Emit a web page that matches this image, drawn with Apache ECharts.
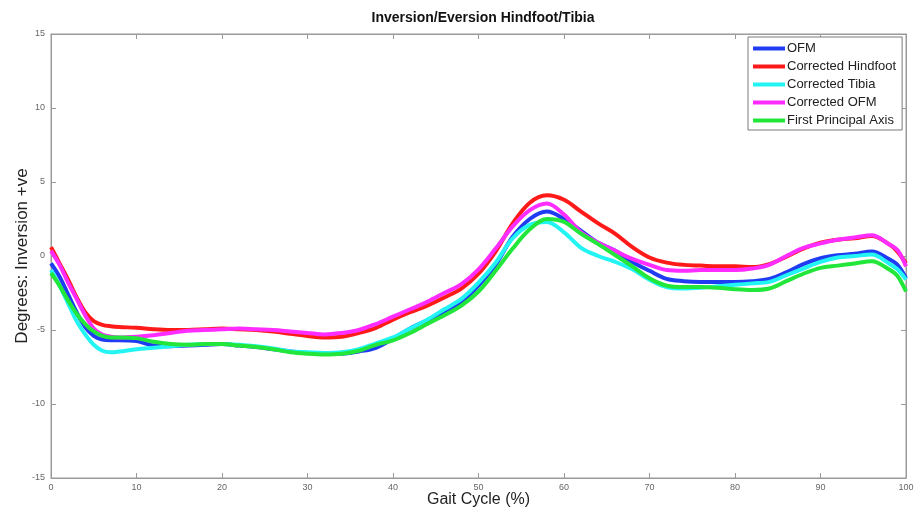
<!DOCTYPE html>
<html>
<head>
<meta charset="utf-8">
<title>Inversion/Eversion Hindfoot/Tibia</title>
<script src="https://cdn.jsdelivr.net/npm/echarts@6/dist/echarts.min.js"></script>
<style>
  html, body { margin: 0; padding: 0; background: #ffffff; }
  #chart { width: 916px; height: 515px; }
</style>
</head>
<body>
<div id="chart"></div>
<script>
// Gait cycle sample positions (%)
const gaitCycle = [0,1,2,3,4,5,6,7,8,10,12,14,16,18,20,22,24,26,28,30,32,34,36,38,40,42,44,46,48,50,52,54,56,58,60,62,64,66,68,70,72,74,76,78,80,82,84,86,88,90,92,94,96,98,99,100];

// Inversion/eversion angle (degrees, inversion positive) for each model
const ofm = [-0.5,-1.4,-2.6,-3.8,-4.8,-5.4,-5.65,-5.7,-5.7,-5.75,-6.05,-6.1,-6.05,-6.0,-5.95,-6.05,-6.15,-6.3,-6.45,-6.55,-6.6,-6.6,-6.45,-6.2,-5.6,-4.9,-4.35,-3.8,-3.1,-2.0,-0.6,1.3,2.5,3.0,2.5,1.7,0.9,0.35,-0.4,-1.0,-1.55,-1.7,-1.75,-1.75,-1.75,-1.7,-1.55,-1.1,-0.55,-0.15,0.05,0.15,0.3,-0.2,-0.6,-1.5];
const correctedHindfoot = [0.6,-0.5,-1.6,-2.8,-3.8,-4.4,-4.65,-4.75,-4.8,-4.85,-4.95,-5.0,-5.0,-4.95,-4.9,-4.95,-5.0,-5.1,-5.25,-5.4,-5.5,-5.45,-5.2,-4.85,-4.3,-3.8,-3.35,-2.8,-2.2,-1.2,0.3,2.2,3.6,4.1,3.8,3.0,2.2,1.5,0.6,-0.1,-0.45,-0.6,-0.65,-0.7,-0.7,-0.75,-0.55,-0.05,0.5,0.9,1.1,1.2,1.35,0.8,0.3,-0.5];
const correctedTibia = [-0.95,-2.0,-3.2,-4.4,-5.3,-6.0,-6.4,-6.5,-6.45,-6.3,-6.2,-6.1,-6.0,-5.95,-5.95,-6.0,-6.1,-6.25,-6.45,-6.5,-6.55,-6.5,-6.3,-5.9,-5.5,-4.9,-4.3,-3.6,-2.9,-1.8,-0.45,1.2,2.1,2.3,1.6,0.55,0.0,-0.4,-0.9,-1.6,-2.1,-2.2,-2.15,-2.05,-1.95,-1.85,-1.75,-1.3,-0.85,-0.4,-0.1,0.0,0.1,-0.5,-0.9,-1.6];
const correctedOfm = [0.35,-0.6,-1.8,-2.9,-4.0,-4.9,-5.3,-5.45,-5.5,-5.45,-5.35,-5.2,-5.05,-5.0,-4.95,-4.9,-4.95,-5.0,-5.1,-5.2,-5.3,-5.2,-5.0,-4.6,-4.1,-3.6,-3.1,-2.5,-1.9,-0.9,0.5,2.0,3.1,3.55,2.8,1.6,0.9,0.35,-0.2,-0.6,-0.95,-1.0,-0.95,-0.95,-0.95,-0.85,-0.6,0.0,0.55,0.85,1.1,1.25,1.4,0.8,0.4,-0.7];
const firstPrincipalAxis = [-1.15,-2.0,-3.0,-3.9,-4.6,-5.1,-5.4,-5.5,-5.5,-5.55,-5.8,-5.95,-6.0,-5.95,-5.95,-6.05,-6.15,-6.3,-6.5,-6.6,-6.65,-6.6,-6.4,-6.0,-5.7,-5.2,-4.6,-4.0,-3.35,-2.4,-1.0,0.5,1.8,2.5,2.3,1.5,0.8,0.05,-0.7,-1.5,-2.0,-2.1,-2.1,-2.15,-2.25,-2.3,-2.2,-1.7,-1.2,-0.8,-0.65,-0.5,-0.35,-0.9,-1.35,-2.4];

const seriesNames = ['OFM', 'Corrected Hindfoot', 'Corrected Tibia', 'Corrected OFM', 'First Principal Axis'];
const seriesValues = [ofm, correctedHindfoot, correctedTibia, correctedOfm, firstPrincipalAxis];
const seriesColors = ['#1f3cf2', '#ff1a1a', '#22f4f4', '#ff2cff', '#22e63a'];

const xTicks = [0, 10, 20, 30, 40, 50, 60, 70, 80, 90, 100];
const yTicks = [-15, -10, -5, 0, 5, 10, 15];

const axisGrey = '#9a9a9a';
const tickLabelStyle = { color: '#666', fontSize: 9, fontFamily: 'Liberation Sans Narrow, Liberation Sans, Arial, sans-serif' };

const boxAxisLine = { show: true, onZero: false, lineStyle: { color: axisGrey } };
const boxAxisTick = { show: true, inside: true, length: 5, lineStyle: { color: axisGrey } };

const chart = echarts.init(document.getElementById('chart'), null, { renderer: 'canvas' });

chart.setOption({
  animation: false,
  backgroundColor: '#ffffff',
  title: {
    text: 'Inversion/Eversion Hindfoot/Tibia',
    left: 478, top: 6, textAlign: 'center',
    textStyle: { fontSize: 14, fontWeight: 'bold', color: '#111', fontFamily: 'Liberation Sans, Arial, sans-serif' }
  },
  grid: {
    left: 51, right: 10, top: 34, bottom: 37,
    containLabel: false, outerBoundsMode: 'none',
    show: true, borderColor: axisGrey, borderWidth: 1, backgroundColor: '#ffffff'
  },
  legend: {
    data: seriesNames,
    orient: 'vertical',
    left: 748, top: 37,
    padding: [5, 6, 3, 5],
    itemGap: 5,
    itemWidth: 32, itemHeight: 4,
    icon: 'rect',
    backgroundColor: '#ffffff',
    borderColor: '#7a7a7a', borderWidth: 1, borderRadius: 0,
    textStyle: { fontSize: 13, color: '#222', padding: [0, 0, 0, -3], fontFamily: 'Liberation Sans, Arial, sans-serif' }
  },
  xAxis: [{
    type: 'value', min: 0, max: 100, interval: 10,
    name: 'Gait Cycle (%)', nameLocation: 'middle', nameGap: 14, nameMoveOverlap: false,
    nameTextStyle: { fontSize: 16, color: '#222', fontFamily: 'Liberation Sans, Arial, sans-serif' },
    axisLine: boxAxisLine,
    axisTick: boxAxisTick,
    axisLabel: Object.assign({ margin: 5, customValues: xTicks }, tickLabelStyle),
    splitLine: { show: false }
  }, {
    type: 'value', min: 0, max: 100, interval: 10, position: 'top',
    axisLine: boxAxisLine,
    axisTick: boxAxisTick,
    axisLabel: { show: false },
    splitLine: { show: false }
  }],
  yAxis: [{
    type: 'value', min: -15, max: 15, interval: 5,
    name: 'Degrees: Inversion +ve', nameLocation: 'middle', nameGap: 20, nameRotate: 90, nameMoveOverlap: false,
    nameTextStyle: { fontSize: 17, color: '#222', fontFamily: 'Liberation Sans, Arial, sans-serif' },
    axisLine: boxAxisLine,
    axisTick: boxAxisTick,
    axisLabel: Object.assign({ margin: 6, customValues: yTicks }, tickLabelStyle),
    splitLine: { show: false }
  }, {
    type: 'value', min: -15, max: 15, interval: 5, position: 'right',
    axisLine: boxAxisLine,
    axisTick: boxAxisTick,
    axisLabel: { show: false },
    splitLine: { show: false }
  }],
  series: seriesNames.map((name, i) => ({
    name: name,
    type: 'line',
    smooth: 0.35,
    showSymbol: false,
    symbol: 'none',
    color: seriesColors[i],
    lineStyle: { width: 4, color: seriesColors[i] },
    data: gaitCycle.map((g, k) => [g, seriesValues[i][k]])
  }))
});
</script>
</body>
</html>
